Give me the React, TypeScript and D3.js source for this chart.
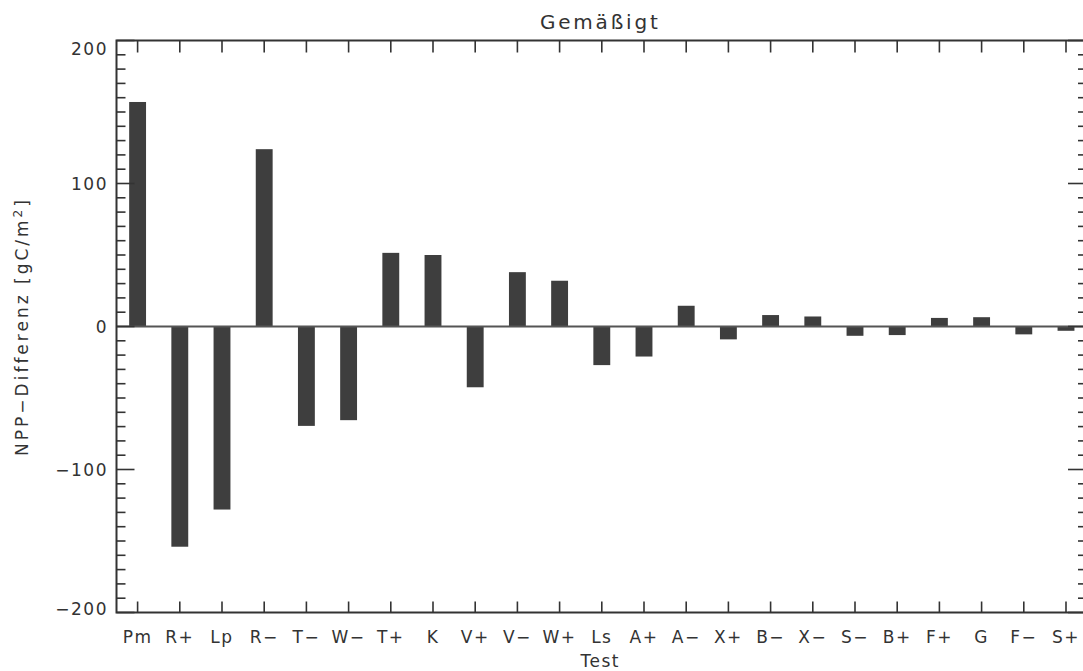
import React from "react";
import * as d3 from "d3";

// Test cases along the x axis
const tests = [
  "Pm", "R+", "Lp", "R−", "T−", "W−", "T+", "K", "V+", "V−", "W+", "Ls",
  "A+", "A−", "X+", "B−", "X−", "S−", "B+", "F+", "G", "F−", "S+",
];

// NPP difference per test [gC/m²]
const nppDiff = [
  157, -154, -128, 124, -69.5, -65.5, 51.5, 50, -42.5, 38, 32, -27,
  -21, 14.5, -9, 8, 7, -6.5, -6, 6, 6.5, -5.5, -3,
];

const yMajorTicks = [-200, -100, 0, 100, 200];
const yMinorTicks = d3.range(-200, 201, 10);

const W = 1083;
const H = 671;
const left = 116.5;
const right = 1084;
const top = 40.5;
const bottom = 612.5;

const ink = "#333";
const font = "'DejaVu Sans', sans-serif";

export default function App() {
  const x = d3
    .scaleBand<string>()
    .domain(tests)
    .range([left, left + 42.2 * tests.length])
    .paddingInner(0.6)
    .paddingOuter(0.3);
  const y = d3.scaleLinear().domain([-200, 200]).range([bottom, top]);
  const bw = x.bandwidth();
  const cx = (t: string) => (x(t) as number) + bw / 2;

  return (
    <svg
      width={W}
      height={H}
      style={{ position: "absolute", left: 0, top: 0, background: "#fff" }}
      fontFamily={font}
    >
      {/* bars */}
      {tests.map((t, i) => {
        const v = nppDiff[i];
        return (
          <rect
            key={t}
            x={x(t)}
            width={bw}
            y={y(Math.max(0, v))}
            height={Math.abs(y(v) - y(0))}
            fill="#3e3e3e"
          />
        );
      })}

      {/* zero line */}
      <line x1={left} x2={right} y1={y(0)} y2={y(0)} stroke="#555" strokeWidth={2} />

      {/* frame */}
      <rect
        x={left}
        y={top}
        width={right - left}
        height={bottom - top}
        fill="none"
        stroke={ink}
        strokeWidth={2}
      />

      {/* x ticks, top and bottom */}
      {tests.map((t) => (
        <g key={"xt" + t} stroke={ink} strokeWidth={1.6}>
          <line x1={cx(t)} x2={cx(t)} y1={top} y2={top + 12} />
          <line x1={cx(t)} x2={cx(t)} y1={bottom} y2={bottom - 11} />
        </g>
      ))}

      {/* y ticks, left and right */}
      {yMinorTicks.map((v) => {
        const major = yMajorTicks.includes(v);
        return (
          <g key={"yt" + v} stroke={ink} strokeWidth={1.6}>
            <line x1={left} x2={left + (major ? 18 : 9)} y1={y(v)} y2={y(v)} />
            <line x1={right} x2={right - (major ? 16 : 6)} y1={y(v)} y2={y(v)} />
          </g>
        );
      })}

      {/* y tick labels */}
      {yMajorTicks.map((v) => (
        <text
          key={"yl" + v}
          x={108}
          y={Math.min(Math.max(y(v), top + 8), bottom - 4)}
          textAnchor="end"
          dominantBaseline="central"
          fontSize={17}
          letterSpacing={1.5}
          fill={ink}
        >
          {v < 0 ? "−" + Math.abs(v) : String(v)}
        </text>
      ))}

      {/* x tick labels */}
      {tests.map((t) => (
        <text
          key={"xl" + t}
          x={cx(t)}
          y={643}
          textAnchor="middle"
          fontSize={17}
          letterSpacing={1.5}
          fill={ink}
        >
          {t}
        </text>
      ))}

      {/* title */}
      <text
        x={(left + right) / 2}
        y={29}
        textAnchor="middle"
        fontSize={20}
        letterSpacing={2.8}
        fill={ink}
      >
        Gemäßigt
      </text>

      {/* axis titles */}
      <text
        x={(left + right) / 2}
        y={667}
        textAnchor="middle"
        fontSize={17}
        letterSpacing={1.5}
        fill={ink}
      >
        Test
      </text>
      <text
        transform={`translate(28, ${(top + bottom) / 2}) rotate(-90)`}
        textAnchor="middle"
        fontSize={17}
        letterSpacing={3}
        fill={ink}
      >
        NPP−Differenz [gC/m
        <tspan dy={-6} fontSize={12}>2</tspan>
        <tspan dy={6}>]</tspan>
      </text>
    </svg>
  );
}
